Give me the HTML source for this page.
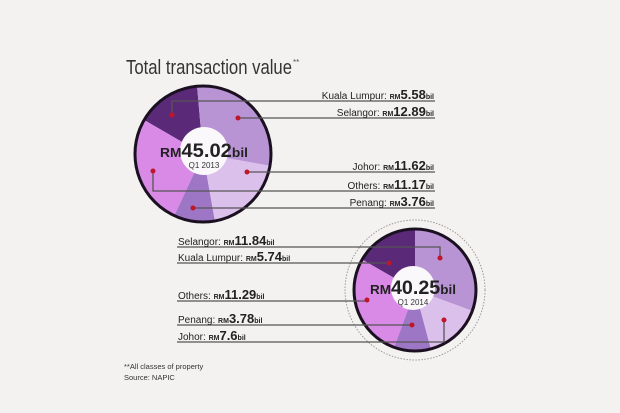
<!DOCTYPE html>
<html><head><meta charset="utf-8"><style>
html,body{margin:0;padding:0;background:#f3f2f0;}
svg{display:block;font-family:"Liberation Sans",sans-serif;}
</style></head><body>
<svg id="s" width="620" height="413" viewBox="0 0 620 413">
<rect width="620" height="413" fill="#f3f2f0"/>
<text x="126" y="74" font-size="20" fill="#333" textLength="166" lengthAdjust="spacingAndGlyphs">Total transaction value</text>
<text x="293" y="65" font-size="8" fill="#555">**</text>
<g id="p1"></g><g id="p2"></g>
<circle cx="415" cy="290" r="70" fill="none" stroke="#999" stroke-width="1" stroke-dasharray="1.5,1.5"/>
<circle cx="203" cy="154" r="68" fill="none" stroke="#1a1020" stroke-width="3"/>
<circle cx="415" cy="290" r="61" fill="none" stroke="#1a1020" stroke-width="3"/>
<circle cx="204" cy="151" r="24" fill="#fbf8fc"/>
<circle cx="413" cy="288" r="22" fill="#fbf8fc"/>
<text x="204" y="157" font-size="19" font-weight="bold" fill="#222" text-anchor="middle" textLength="88" lengthAdjust="spacingAndGlyphs"><tspan font-size="13">RM</tspan>45.02<tspan font-size="13">bil</tspan></text>
<text x="204" y="168" font-size="8" fill="#333" text-anchor="middle">Q1 2013</text>
<text x="413" y="294" font-size="19" font-weight="bold" fill="#222" text-anchor="middle" textLength="86" lengthAdjust="spacingAndGlyphs"><tspan font-size="13">RM</tspan>40.25<tspan font-size="13">bil</tspan></text>
<text x="413" y="305" font-size="8" fill="#333" text-anchor="middle">Q1 2014</text>
<g stroke="#555" stroke-width="1.3" fill="none">
<polyline points="172,115 172,101 435,101"/>
<polyline points="238,118 435,118"/>
<polyline points="247,172 435,172"/>
<polyline points="153,171 153,191 435,191"/>
<polyline points="193,208 435,208"/>
<polyline points="177,247 440,247 440,258"/>
<polyline points="177,263 389,263"/>
<polyline points="177,301 367,301"/>
<polyline points="177,325 412,325"/>
<polyline points="177,342 444,342 444,320"/>
</g>
<g fill="#c0162a">
<circle cx="172" cy="115" r="2.5"/><circle cx="238" cy="118" r="2.5"/><circle cx="247" cy="172" r="2.5"/><circle cx="153" cy="171" r="2.5"/><circle cx="193" cy="208" r="2.5"/>
<circle cx="440" cy="258" r="2.5"/><circle cx="389" cy="263" r="2.5"/><circle cx="367" cy="300" r="2.5"/><circle cx="412" cy="325" r="2.5"/><circle cx="444" cy="320" r="2.5"/>
</g>
<g font-size="10" fill="#222">
<text x="434" y="99" text-anchor="end">Kuala Lumpur: <tspan font-size="7" font-weight="bold">RM</tspan><tspan font-size="13" font-weight="bold">5.58</tspan><tspan font-size="7" font-weight="bold">bil</tspan></text>
<text x="434" y="116" text-anchor="end">Selangor: <tspan font-size="7" font-weight="bold">RM</tspan><tspan font-size="13" font-weight="bold">12.89</tspan><tspan font-size="7" font-weight="bold">bil</tspan></text>
<text x="434" y="170" text-anchor="end">Johor: <tspan font-size="7" font-weight="bold">RM</tspan><tspan font-size="13" font-weight="bold">11.62</tspan><tspan font-size="7" font-weight="bold">bil</tspan></text>
<text x="434" y="189" text-anchor="end">Others: <tspan font-size="7" font-weight="bold">RM</tspan><tspan font-size="13" font-weight="bold">11.17</tspan><tspan font-size="7" font-weight="bold">bil</tspan></text>
<text x="434" y="206" text-anchor="end">Penang: <tspan font-size="7" font-weight="bold">RM</tspan><tspan font-size="13" font-weight="bold">3.76</tspan><tspan font-size="7" font-weight="bold">bil</tspan></text>
<text x="178" y="245">Selangor: <tspan font-size="7" font-weight="bold">RM</tspan><tspan font-size="13" font-weight="bold">11.84</tspan><tspan font-size="7" font-weight="bold">bil</tspan></text>
<text x="178" y="261">Kuala Lumpur: <tspan font-size="7" font-weight="bold">RM</tspan><tspan font-size="13" font-weight="bold">5.74</tspan><tspan font-size="7" font-weight="bold">bil</tspan></text>
<text x="178" y="299">Others: <tspan font-size="7" font-weight="bold">RM</tspan><tspan font-size="13" font-weight="bold">11.29</tspan><tspan font-size="7" font-weight="bold">bil</tspan></text>
<text x="178" y="323">Penang: <tspan font-size="7" font-weight="bold">RM</tspan><tspan font-size="13" font-weight="bold">3.78</tspan><tspan font-size="7" font-weight="bold">bil</tspan></text>
<text x="178" y="340">Johor: <tspan font-size="7" font-weight="bold">RM</tspan><tspan font-size="13" font-weight="bold">7.6</tspan><tspan font-size="7" font-weight="bold">bil</tspan></text>
</g>
<text x="124" y="369" font-size="7.5" fill="#333">**All classes of property</text>
<text x="124" y="380" font-size="7.5" fill="#333">Source: NAPIC</text>
</svg>
<script>
function pie(id,cx,cy,r,segs){var g=document.getElementById(id),h='';
segs.forEach(function(s){var a0=(s[0]-90)*Math.PI/180,a1=(s[1]-90)*Math.PI/180;
var x0=cx+r*Math.cos(a0),y0=cy+r*Math.sin(a0),x1=cx+r*Math.cos(a1),y1=cy+r*Math.sin(a1);
h+='<path d="M'+cx+','+cy+' L'+x0+','+y0+' A'+r+','+r+' 0 '+((s[1]-s[0])>180?1:0)+' 1 '+x1+','+y1+' Z" fill="'+s[2]+'"/>';});
g.innerHTML=h;}
pie('p1',203,154,68,[[-60,-5,'#5a2a78'],[-5,100,'#b894d4'],[100,170,'#dcc0ec'],[170,205,'#9e76c6'],[205,300,'#d88ae6']]);
pie('p2',415,290,61,[[-60,0,'#5a2a78'],[0,110,'#b894d4'],[110,165,'#dcc0ec'],[165,200,'#9e76c6'],[200,300,'#d88ae6']]);
</script>
</body></html>
